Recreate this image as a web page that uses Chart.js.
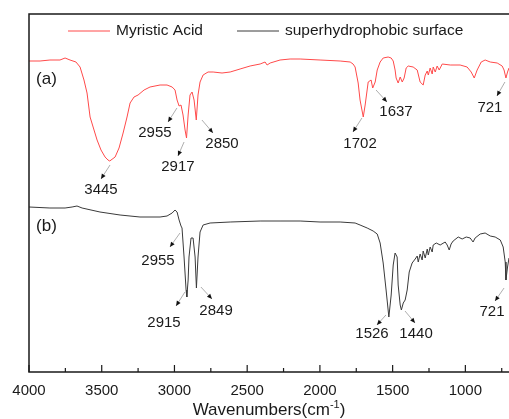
<!DOCTYPE html>
<html>
<head>
<meta charset="utf-8">
<script src="https://cdn.jsdelivr.net/npm/chart.js@4.4.0/dist/chart.umd.min.js"></script>
<style>
  html, body { margin: 0; padding: 0; background: #fff; }
  canvas { display: block; }
</style>
</head>
<body>
<canvas id="spectrum" width="509" height="419"></canvas>
<script>
// FTIR spectra (wavenumber in cm-1, transmittance in a.u. with offset)
const wavenumbersA = [4000, 3924, 3856, 3787, 3752, 3718, 3677, 3649, 3622, 3601, 3580, 3553, 3532, 3505, 3477, 3457,
  3445, 3408, 3381, 3353, 3326, 3305, 3278, 3250, 3209, 3168, 3099, 3051, 3016, 2996, 2982, 2968, 2955, 2941, 2927,
  2917, 2906, 2893, 2879, 2865, 2850, 2838, 2824, 2803, 2769, 2734, 2673, 2617, 2549, 2480, 2411, 2377, 2363, 2342,
  2274, 2205, 2136, 1999, 1861, 1792, 1772, 1758, 1737, 1724, 1702, 1689, 1668, 1648, 1637, 1620, 1606, 1586, 1565,
  1531, 1510, 1496, 1483, 1476, 1462, 1448, 1434, 1421, 1407, 1393, 1359, 1331, 1311, 1290, 1276, 1262, 1255, 1242,
  1228, 1221, 1207, 1194, 1180, 1159, 1104, 1036, 988, 960, 939, 919, 891, 864, 829, 781, 747, 734, 721, 710, 700];
const transmittanceA = [311, 311, 312, 312, 314, 312, 310, 305, 292, 279, 255, 242, 232, 222, 215, 212,
  211, 215, 224, 239, 255, 269, 275, 277, 282, 285, 287, 287, 285, 282, 272, 266, 267, 257, 242,
  234, 257, 277, 280, 272, 252, 277, 290, 297, 300, 300, 299, 300, 303, 306, 308, 310, 307, 309,
  312, 313, 313, 312, 311, 310, 308, 305, 289, 272, 255, 267, 290, 292, 284, 290, 302, 310, 314,
  315, 314, 311, 302, 294, 289, 295, 290, 294, 304, 306, 305, 302, 290, 287, 297, 301, 297, 304,
  298, 305, 300, 306, 302, 308, 307, 307, 305, 300, 294, 302, 310, 312, 310, 309, 306, 302, 294, 300, 304];

const wavenumbersB = [4000, 3856, 3752, 3704, 3670, 3635, 3512, 3374, 3237, 3099, 3051, 3016, 2996, 2982, 2968, 2955,
  2948, 2934, 2920, 2915, 2906, 2900, 2886, 2872, 2858, 2849, 2838, 2824, 2803, 2755, 2617, 2411, 2274, 2136, 1999,
  1861, 1758, 1724, 1675, 1634, 1606, 1586, 1565, 1545, 1526, 1510, 1496, 1483, 1469, 1462, 1448, 1440, 1427, 1414,
  1400, 1386, 1366, 1345, 1331, 1324, 1311, 1297, 1290, 1276, 1262, 1255, 1242, 1228, 1221, 1200, 1173, 1139, 1125,
  1111, 1098, 1084, 1049, 1022, 994, 967, 947, 933, 898, 864, 829, 795, 760, 740, 726, 721, 710, 700];
const transmittanceB = [165, 164, 164, 165, 166, 164, 160, 157, 155, 155, 156, 159, 162, 160, 152, 146,
  144, 115, 82, 75, 92, 115, 134, 134, 115, 84, 115, 140, 147, 149, 150, 151, 151, 151, 150,
  150, 149, 147, 144, 141, 138, 129, 109, 82, 55, 77, 107, 119, 115, 87, 67, 62, 69, 72,
  82, 100, 109, 113, 116, 110, 118, 112, 121, 114, 123, 117, 125, 120, 127, 129, 127, 130, 127,
  122, 128, 131, 135, 133, 135, 134, 130, 134, 138, 139, 136, 135, 132, 125, 110, 92, 105, 114];

const seriesNames = ["Myristic Acid", "superhydrophobic surface"];
const seriesColors = ["#ff4a4a", "#3a3a3a"];
const majorTicks = [4000, 3500, 3000, 2500, 2000, 1500, 1000];
const minorTicks = [3750, 3250, 2750, 2250, 1750, 1250, 750];

// peak labels: text, where the text sits, and the arrow (all in data units)
const peakMarks = [
  { text: "3445", at: [3505, 182], from: [3443, 207], to: [3505, 193] },
  { text: "2955", at: [3134, 239], from: [2983, 264], to: [3044, 250] },
  { text: "2917", at: [2976, 205], from: [2934, 230], to: [2976, 216] },
  { text: "2850", at: [2673, 228], from: [2811, 252], to: [2735, 239] },
  { text: "1702", at: [1724, 228], from: [1711, 254], to: [1773, 240] },
  { text: "1637", at: [1477, 260], from: [1614, 282], to: [1539, 270] },
  { text: "721", at: [831, 264], from: [728, 290], to: [783, 276] },
  { text: "2955", at: [3113, 111], from: [2962, 139], to: [3031, 125] },
  { text: "2915", at: [3072, 49], from: [2928, 80], to: [2989, 66] },
  { text: "2849", at: [2714, 61], from: [2818, 85], to: [2742, 73] },
  { text: "1526", at: [1642, 38], from: [1546, 57], to: [1608, 47] },
  { text: "1440", at: [1339, 38], from: [1415, 61], to: [1346, 49] },
  { text: "721", at: [817, 60], from: [734, 84], to: [796, 71] }
];
const panelTags = [
  { text: "(a)", at: [3880, 293] },
  { text: "(b)", at: [3880, 146] }
];

const FONT = '"Liberation Sans", Arial, sans-serif';

const toPoints = (xs, ys) => xs.map((w, i) => ({ x: w, y: ys[i] }));

function arrow(ctx, x1, y1, x2, y2) {
  ctx.strokeStyle = "#999";
  ctx.lineWidth = 0.8;
  ctx.beginPath();
  ctx.moveTo(x1, y1);
  ctx.lineTo(x2, y2);
  ctx.stroke();
  const ang = Math.atan2(y2 - y1, x2 - x1);
  const len = 5, half = 2.2;
  ctx.fillStyle = "#111";
  ctx.beginPath();
  ctx.moveTo(x2, y2);
  ctx.lineTo(x2 - len * Math.cos(ang) + half * Math.sin(ang), y2 - len * Math.sin(ang) - half * Math.cos(ang));
  ctx.lineTo(x2 - len * Math.cos(ang) - half * Math.sin(ang), y2 - len * Math.sin(ang) + half * Math.cos(ang));
  ctx.closePath();
  ctx.fill();
}

const decorations = {
  id: "decorations",
  afterDraw(chart) {
    const { ctx, chartArea: area, scales: { x, y } } = chart;
    ctx.save();

    // frame: left, top, bottom
    ctx.strokeStyle = "#1a1a1a";
    ctx.lineWidth = 1.5;
    ctx.beginPath();
    ctx.moveTo(chart.width, area.top);
    ctx.lineTo(area.left, area.top);
    ctx.lineTo(area.left, area.bottom);
    ctx.lineTo(chart.width, area.bottom);
    ctx.stroke();

    // ticks pointing inside
    ctx.lineWidth = 1.2;
    ctx.beginPath();
    majorTicks.forEach(v => {
      const px = x.getPixelForValue(v);
      ctx.moveTo(px, area.bottom);
      ctx.lineTo(px, area.bottom - 7);
    });
    minorTicks.forEach(v => {
      const px = x.getPixelForValue(v);
      ctx.moveTo(px, area.bottom);
      ctx.lineTo(px, area.bottom - 4);
    });
    ctx.stroke();

    // legend inside the frame
    ctx.font = `15.5px ${FONT}`;
    ctx.textBaseline = "middle";
    ctx.textAlign = "left";
    const legY = area.top + 17;
    const legX = [area.left + 39, area.left + 208];
    chart.data.datasets.forEach((ds, i) => {
      ctx.strokeStyle = ds.borderColor;
      ctx.lineWidth = 1;
      ctx.beginPath();
      ctx.moveTo(legX[i], legY);
      ctx.lineTo(legX[i] + 42, legY);
      ctx.stroke();
      ctx.fillStyle = "#1a1a1a";
      ctx.fillText(ds.label, legX[i] + 48, legY);
    });

    // panel tags
    ctx.font = `17px ${FONT}`;
    ctx.textAlign = "center";
    panelTags.forEach(t => {
      ctx.fillText(t.text, x.getPixelForValue(t.at[0]), y.getPixelForValue(t.at[1]));
    });

    // peak labels with arrows
    ctx.font = `15px ${FONT}`;
    peakMarks.forEach(p => {
      arrow(ctx, x.getPixelForValue(p.from[0]), y.getPixelForValue(p.from[1]),
        x.getPixelForValue(p.to[0]), y.getPixelForValue(p.to[1]));
      ctx.fillStyle = "#1a1a1a";
      ctx.fillText(p.text, x.getPixelForValue(p.at[0]), y.getPixelForValue(p.at[1]));
    });

    // axis title with superscript
    const base = "Wavenumbers(cm";
    const sup = "-1";
    const tail = ")";
    ctx.textAlign = "left";
    ctx.textBaseline = "alphabetic";
    ctx.font = `17px ${FONT}`;
    const wBase = ctx.measureText(base).width;
    const wTail = ctx.measureText(tail).width;
    ctx.font = `11px ${FONT}`;
    const wSup = ctx.measureText(sup).width;
    const total = wBase + wSup + wTail;
    const tx = (area.left + area.right) / 2 - total / 2;
    const ty = chart.height - 4;
    ctx.font = `17px ${FONT}`;
    ctx.fillText(base, tx, ty);
    ctx.font = `11px ${FONT}`;
    ctx.fillText(sup, tx + wBase, ty - 7);
    ctx.font = `17px ${FONT}`;
    ctx.fillText(tail, tx + wBase + wSup, ty);

    ctx.restore();
  }
};

new Chart(document.getElementById("spectrum"), {
  type: "line",
  data: {
    datasets: [
      {
        label: seriesNames[0],
        data: toPoints(wavenumbersA, transmittanceA),
        borderColor: seriesColors[0],
        borderWidth: 1,
        pointRadius: 0,
        tension: 0
      },
      {
        label: seriesNames[1],
        data: toPoints(wavenumbersB, transmittanceB),
        borderColor: seriesColors[1],
        borderWidth: 1,
        pointRadius: 0,
        tension: 0
      }
    ]
  },
  options: {
    responsive: false,
    animation: false,
    devicePixelRatio: 1,
    layout: { padding: { top: 14, right: 0, left: 0, bottom: 0 } },
    plugins: { legend: { display: false }, tooltip: { enabled: false } },
    scales: {
      x: {
        type: "linear",
        reverse: true,
        min: 700,
        max: 4000,
        afterBuildTicks: s => { s.ticks = majorTicks.map(v => ({ value: v })); },
        afterFit: s => { s.height = 47; },
        grid: { display: false },
        border: { display: false },
        ticks: {
          padding: 2,
          maxRotation: 0,
          autoSkip: false,
          color: "#1a1a1a",
          font: { size: 15, family: FONT },
          callback: v => String(v)
        }
      },
      y: {
        min: 0,
        max: 358,
        afterFit: s => { s.width = 29; },
        grid: { display: false },
        border: { display: false },
        ticks: { display: false }
      }
    }
  },
  plugins: [decorations]
});
</script>
</body>
</html>
